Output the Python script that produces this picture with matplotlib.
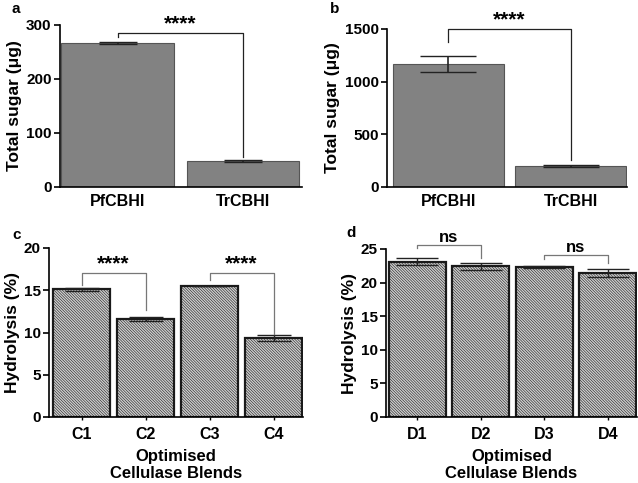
import numpy as np
import matplotlib
matplotlib.use('Agg')
import matplotlib.pyplot as plt

plt.rcParams['font.family'] = ['Liberation Sans', 'DejaVu Sans']
plt.rcParams['font.weight'] = 'bold'
plt.rcParams['axes.labelweight'] = 'bold'
plt.rcParams['hatch.color'] = '#b2b2b2'
plt.rcParams['hatch.linewidth'] = 0.4

# panel a / b
cbh_labels = ['PfCBHI', 'TrCBHI']
sugar_a = [266, 48]
sugar_a_err = [2, 2]
sugar_b = [1165, 198]
sugar_b_err = [76, 8]

# panel c / d
blends_c = ['C1', 'C2', 'C3', 'C4']
hydro_c = [15.1, 11.6, 15.5, 9.3]
hydro_c_err = [0.2, 0.25, 0.0, 0.35]
blends_d = ['D1', 'D2', 'D3', 'D4']
hydro_d = [23.1, 22.4, 22.3, 21.4]
hydro_d_err = [0.5, 0.5, 0.2, 0.6]

W, H = 638, 483
fig = plt.figure(figsize=(W / 100, H / 100), dpi=100)


def make_ax(left, right, top, bottom):
    return fig.add_axes([left / W, 1 - bottom / H, (right - left) / W, (bottom - top) / H])


def style(ax, xtick_len=0):
    ax.spines['top'].set_visible(False)
    ax.spines['right'].set_visible(False)
    ax.spines['left'].set_linewidth(1.2)
    ax.spines['bottom'].set_linewidth(1.2)
    ax.tick_params(axis='y', direction='out', length=4, width=1.2, labelsize=11, pad=2)
    ax.tick_params(axis='x', length=xtick_len, width=1, labelsize=11.5, pad=5)


def bracket(ax, x1, x2, y1, ytop, y2, text, color, fs):
    ax.plot([x1, x1, x2, x2], [y1, ytop, ytop, y2], color=color, lw=0.9, clip_on=False)
    ax.text((x1 + x2) / 2, ytop, text, ha='center', va='bottom', fontsize=fs,
            fontweight='bold', clip_on=False)


# a
ax = make_ax(60, 302, 25, 187)
x = np.arange(len(cbh_labels))
ax.bar(x, sugar_a, width=0.9, color='#828282', edgecolor='#555555', linewidth=0.8)
ax.errorbar(x, sugar_a, yerr=sugar_a_err, fmt='none', ecolor='#222222', elinewidth=1.2, capsize=14)
ax.set_xticks(x)
ax.set_xticklabels(cbh_labels)
ax.set_xlim(-0.46, 1.47)
ax.set_ylim(0, 300)
ax.set_yticks([0, 100, 200, 300])
ax.set_ylabel('Total sugar (\u03bcg)', fontsize=12.5, labelpad=3)
style(ax)
bracket(ax, 0, 1, 277, 285, 56, '****', '#222222', 15)
fig.text(16 / W, 1 - 9 / H, 'a', fontsize=11, fontweight='bold', va='center', ha='center')

# b
ax = make_ax(387, 627, 29, 187)
ax.bar(x, sugar_b, width=0.91, color='#828282', edgecolor='#555555', linewidth=0.8)
ax.errorbar(x, sugar_b, yerr=sugar_b_err, fmt='none', ecolor='#222222', elinewidth=1.2, capsize=20)
ax.set_xticks(x)
ax.set_xticklabels(cbh_labels)
ax.set_xlim(-0.5, 1.46)
ax.set_ylim(0, 1500)
ax.set_yticks([0, 500, 1000, 1500])
ax.set_ylabel('Total sugar (\u03bcg)', fontsize=12.5, labelpad=3)
style(ax)
bracket(ax, 0, 1, 1377, 1500, 256, '****', '#222222', 15)
fig.text(335 / W, 1 - 9 / H, 'b', fontsize=11, fontweight='bold', va='center', ha='center')

# c
ax = make_ax(49, 303, 248, 417)
x = np.arange(len(blends_c))
ax.bar(x, hydro_c, width=0.9, color='#cecece', edgecolor='#1a1a1a', linewidth=1.6, hatch='\\' * 12)
ax.errorbar(x, hydro_c, yerr=hydro_c_err, fmt='none', ecolor='#222222', elinewidth=1, capsize=12)
ax.set_xticks(x)
ax.set_xticklabels(blends_c)
ax.set_xlim(-0.51, 3.46)
ax.set_ylim(0, 20)
ax.set_yticks([0, 5, 10, 15, 20])
ax.set_ylabel('Hydrolysis (%)', fontsize=12.5, labelpad=3)
ax.set_xlabel('Optimised\nCellulase Blends', fontsize=12, labelpad=5)
style(ax, xtick_len=2)
bracket(ax, 0, 1, 15.6, 17.0, 12.7, '****', '#777777', 15)
bracket(ax, 2, 3, 16.2, 17.0, 9.8, '****', '#777777', 15)
fig.text(17 / W, 1 - 235 / H, 'c', fontsize=11, fontweight='bold', va='center', ha='center')

# d
ax = make_ax(386, 637, 249, 417)
x = np.arange(len(blends_d))
ax.bar(x, hydro_d, width=0.9, color='#cecece', edgecolor='#1a1a1a', linewidth=1.6, hatch='\\' * 12)
ax.errorbar(x, hydro_d, yerr=hydro_d_err, fmt='none', ecolor='#222222', elinewidth=1, capsize=15)
ax.set_xticks(x)
ax.set_xticklabels(blends_d)
ax.set_xlim(-0.49, 3.46)
ax.set_ylim(0, 25)
ax.set_yticks([0, 5, 10, 15, 20, 25])
ax.set_ylabel('Hydrolysis (%)', fontsize=12.5, labelpad=3)
ax.set_xlabel('Optimised\nCellulase Blends', fontsize=12, labelpad=5)
style(ax, xtick_len=2)
bracket(ax, 0, 1, 25.1, 25.6, 23.7, 'ns', '#777777', 12)
bracket(ax, 2, 3, 23.5, 24.1, 22.9, 'ns', '#777777', 12)
fig.text(351 / W, 1 - 233 / H, 'd', fontsize=11, fontweight='bold', va='center', ha='center')

fig.savefig('out.png', dpi=100)
